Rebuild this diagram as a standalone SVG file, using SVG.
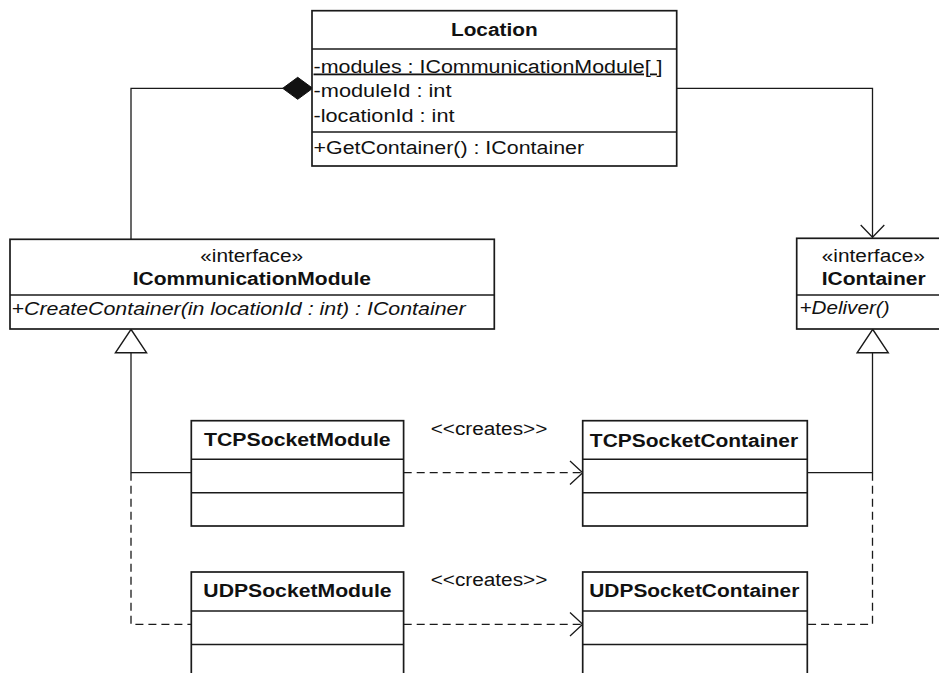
<svg xmlns="http://www.w3.org/2000/svg" width="939" height="673" viewBox="0 0 939 673">
<style>
.box{fill:#fff;stroke:#1a1a1a;stroke-width:1.7}
.div{stroke:#1a1a1a;stroke-width:1.5}
.ln{fill:none;stroke:#1a1a1a;stroke-width:1.3}
.dash{fill:none;stroke:#1a1a1a;stroke-width:1.3;stroke-dasharray:8,5}
text{font-family:"Liberation Sans",Arial,sans-serif;font-size:18px;fill:#111}
.b{font-weight:bold}
.i{font-style:italic}
.c{text-anchor:middle}
</style>
<rect width="939" height="673" fill="#fff"/>
<g id="connectors">
  <polyline class="ln" points="283,88.3 131,88.3 131,239.3"/>
  <polygon points="282.7,88.3 297.7,77.3 312.7,88.3 297.7,99.3" fill="#111" stroke="#111" stroke-width="1"/>
  <polyline class="ln" points="676.7,88.3 872.5,88.3 872.5,237.5"/>
  <polyline class="ln" points="860.7,225 872.5,237.3 884.3,225"/>
  <polygon points="131,329.3 115.5,352.7 146.5,352.7" fill="#fff" stroke="#1a1a1a" stroke-width="1.5"/>
  <polyline class="ln" points="131,352.7 131,472.7 191,472.7"/>
  <polyline class="dash" points="131,472.7 131,624.3 191,624.3"/>
  <polygon points="872.7,329.3 857.2,352.7 888.2,352.7" fill="#fff" stroke="#1a1a1a" stroke-width="1.5"/>
  <polyline class="ln" points="872.5,352.7 872.5,472.7 807.3,472.7"/>
  <polyline class="dash" points="872.5,472.7 872.5,624.3 807.3,624.3"/>
  <line class="dash" x1="403.7" y1="472.7" x2="582" y2="472.7"/>
  <polyline class="ln" points="570,461 582.7,472.7 570,484.5"/>
  <text x="489" y="435" class="c" textLength="116.7" lengthAdjust="spacingAndGlyphs">&lt;&lt;creates&gt;&gt;</text>
  <line class="dash" x1="403.7" y1="624.3" x2="582" y2="624.3"/>
  <polyline class="ln" points="570,612.5 582.7,624.3 570,636"/>
  <text x="489" y="586" class="c" textLength="116.7" lengthAdjust="spacingAndGlyphs">&lt;&lt;creates&gt;&gt;</text>
</g>
<g id="Location">
  <rect class="box" x="312" y="10.7" width="364.7" height="155.3"/>
  <line class="div" x1="312" y1="49" x2="676.7" y2="49"/>
  <line class="div" x1="312" y1="132" x2="676.7" y2="132"/>
  <text x="494.3" y="36" class="b c" textLength="86.7" lengthAdjust="spacingAndGlyphs">Location</text>
  <text x="313.5" y="72.5" text-decoration="underline" textLength="349" lengthAdjust="spacingAndGlyphs">-modules : ICommunicationModule[ ]</text>
  <text x="313.5" y="96.7" textLength="138" lengthAdjust="spacingAndGlyphs">-moduleId : int</text>
  <text x="313.5" y="122" textLength="141" lengthAdjust="spacingAndGlyphs">-locationId : int</text>
  <text x="313.5" y="154" textLength="270.6" lengthAdjust="spacingAndGlyphs">+GetContainer() : IContainer</text>
</g>
<g id="ICommunicationModule">
  <rect class="box" x="10" y="239.3" width="484.3" height="89.7"/>
  <line class="div" x1="10" y1="295" x2="494.3" y2="295"/>
  <text x="251.7" y="262" class="c" textLength="103" lengthAdjust="spacingAndGlyphs">«interface»</text>
  <text x="251.8" y="285" class="b c" textLength="238.3" lengthAdjust="spacingAndGlyphs">ICommunicationModule</text>
  <text x="11.5" y="315" class="i" textLength="454" lengthAdjust="spacingAndGlyphs">+CreateContainer(in locationId : int) : IContainer</text>
</g>
<g id="IContainer">
  <rect class="box" x="796.7" y="238.3" width="160" height="90.7"/>
  <line class="div" x1="796.7" y1="295" x2="945" y2="295"/>
  <text x="873.3" y="262" class="c" textLength="103" lengthAdjust="spacingAndGlyphs">«interface»</text>
  <text x="873.7" y="285" class="b c" textLength="104" lengthAdjust="spacingAndGlyphs">IContainer</text>
  <text x="799.5" y="314" class="i" textLength="90" lengthAdjust="spacingAndGlyphs">+Deliver()</text>
</g>
<g id="TCPSocketModule">
  <rect class="box" x="191.3" y="420.7" width="212.3" height="105.3"/>
  <line class="div" x1="191.3" y1="459.3" x2="403.6" y2="459.3"/>
  <line class="div" x1="191.3" y1="492.7" x2="403.6" y2="492.7"/>
  <text x="297.3" y="446" class="b c" textLength="186.7" lengthAdjust="spacingAndGlyphs">TCPSocketModule</text>
</g>
<g id="TCPSocketContainer">
  <rect class="box" x="582.7" y="420.7" width="224.6" height="105.3"/>
  <line class="div" x1="582.7" y1="459.3" x2="807.3" y2="459.3"/>
  <line class="div" x1="582.7" y1="492.7" x2="807.3" y2="492.7"/>
  <text x="694" y="446.5" class="b c" textLength="208.3" lengthAdjust="spacingAndGlyphs">TCPSocketContainer</text>
</g>
<g id="UDPSocketModule">
  <rect class="box" x="191.3" y="572" width="212.3" height="110"/>
  <line class="div" x1="191.3" y1="611" x2="403.6" y2="611"/>
  <line class="div" x1="191.3" y1="644.4" x2="403.6" y2="644.4"/>
  <text x="297.5" y="597" class="b c" textLength="188.3" lengthAdjust="spacingAndGlyphs">UDPSocketModule</text>
</g>
<g id="UDPSocketContainer">
  <rect class="box" x="582.7" y="572" width="224.6" height="110"/>
  <line class="div" x1="582.7" y1="611" x2="807.3" y2="611"/>
  <line class="div" x1="582.7" y1="644.4" x2="807.3" y2="644.4"/>
  <text x="694.3" y="597" class="b c" textLength="210" lengthAdjust="spacingAndGlyphs">UDPSocketContainer</text>
</g>
</svg>
